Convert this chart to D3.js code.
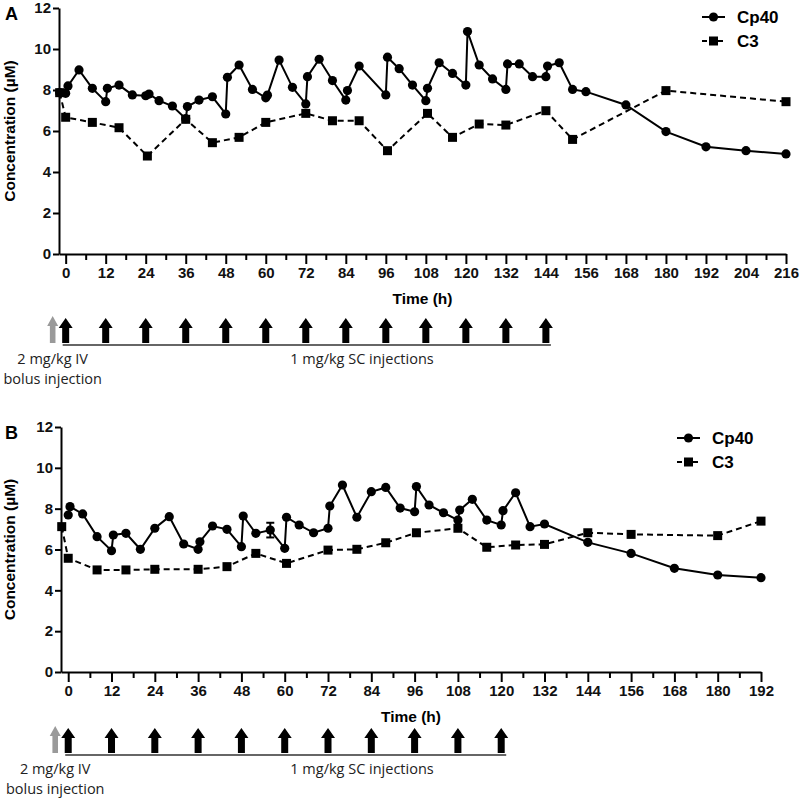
<!DOCTYPE html>
<html>
<head>
<meta charset="utf-8">
<script src="https://cdnjs.cloudflare.com/ajax/libs/d3/7.8.5/d3.min.js"></script>
<style>
  body { margin: 0; background: #fff; }
  svg text { font-family: "Liberation Sans", Arial, sans-serif; }
</style>
</head>
<body>
<script>
// values: [time (h), concentration (uM)]
var cp40A = [[-1.8,7.87],[0,7.84],[0.7,8.2],[4,8.98],[8,8.08],[12,7.43],[12.5,8.08],[16,8.24],[20,7.76],[24,7.72],[25,7.8],
  [28,7.48],[32,7.22],[36,6.6],[36.5,7.19],[40,7.51],[44,7.67],[48,6.83],[48.5,8.62],[52,9.22],[56,8.03],[60,7.62],[60.5,7.75],
  [64,9.46],[68,8.13],[72,7.32],[72.5,8.65],[76,9.5],[80,8.46],[84,7.51],[84.5,7.97],[88,9.17],[96,7.76],[96.5,9.6],[100,9.04],
  [104,8.24],[108,7.48],[108.5,8.08],[112,9.33],[116,8.81],[120,8.24],[120.5,10.85],[124,9.22],[128,8.54],[132,8.03],[132.5,9.27],
  [136,9.27],[140,8.65],[144,8.65],[144.5,9.17],[148,9.33],[152,8.03],[156,7.92],[168,7.27],[180,5.97],[192,5.23],[204,5.04],[216,4.88]];
var c3A = [[-1.8,7.87],[0,6.67],[8,6.42],[16,6.16],[24.5,4.78],[36,6.57],[44,5.43],[52,5.69],[60,6.42],[72,6.86],[80,6.5],
  [88,6.5],[96.5,5.04],[108.5,6.86],[116,5.69],[124,6.34],[132,6.29],[144,6.99],[152,5.59],[180,7.97],[216,7.43]];

var cp40B = [[0,7.69],[0.5,8.1],[4,7.74],[8,6.63],[12,5.94],[12.5,6.71],[16,6.79],[20,6.01],[24,7.04],[28,7.61],[32,6.27],
  [36,6.01],[36.5,6.38],[40,7.15],[44,6.99],[48,6.14],[48.5,7.64],[52,6.79],[56,6.95],[60,6.06],[60.5,7.58],[64,7.2],[68,6.82],
  [72,7.04],[72.5,8.13],[76,9.16],[80,7.58],[84,8.83],[88,9.04],[92,8.03],[96,7.85],[96.5,9.08],[100,8.18],[104,7.8],[108,7.44],
  [108.5,7.93],[112,8.46],[116,7.44],[120,7.2],[120.5,7.9],[124,8.78],[128,7.12],[132,7.25],[144,6.35],[156,5.81],[168,5.08],
  [180,4.75],[192,4.62]];
var c3B = [[-1.8,7.12],[0,5.57],[8,5.0],[16,5.0],[24,5.03],[36,5.03],[44,5.16],[52,5.81],[60.5,5.32],[72,5.97],[80,6.01],
  [88,6.33],[96.5,6.82],[108,7.04],[116,6.11],[124,6.22],[132,6.25],[144,6.82],[156,6.74],[180,6.68],[192,7.39]];
var errB = [[56,6.95,0.36]];

var dosesA = [0,12,24,36,48,60,72,84,96,108,120,132,144];
var dosesB = [0,12,24,36,48,60,72,84,96,108,120];
var yTicks = [0,2,4,6,8,10,12];
var seriesNames = ["Cp40", "C3"];

var svg = d3.select("body").append("svg")
  .attr("width", 800)
  .attr("height", 800);

function drawPanel(p) {
  var x = d3.scaleLinear().domain([-2, p.tMax]).range([p.left, p.right]);
  var y = d3.scaleLinear().domain([0, 12]).range([p.bottom, p.top]);
  var g = svg.append("g");

  var major = d3.range(0, p.tMax + 1, 12);
  var minor = d3.range(6, p.tMax, 12);

  // minor x ticks
  g.append("g")
    .attr("transform", "translate(0," + p.bottom + ")")
    .call(d3.axisBottom(x).tickValues(minor).tickSize(6).tickSizeOuter(0).tickFormat(""))
    .call(function(a){ a.select(".domain").remove(); a.selectAll("line").attr("stroke-width", 2); });

  var xa = g.append("g")
    .attr("transform", "translate(0," + p.bottom + ")")
    .call(d3.axisBottom(x).tickValues(major).tickSize(10).tickSizeOuter(0).tickPadding(3));
  xa.select(".domain").attr("stroke-width", 2);
  xa.selectAll("line").attr("stroke-width", 2);
  xa.selectAll("text").attr("font-size", 15).attr("font-weight", "bold").attr("fill", "#111");

  var ya = g.append("g")
    .attr("transform", "translate(" + p.left + ",0)")
    .call(d3.axisLeft(y).tickValues(yTicks).tickSize(6).tickSizeOuter(0).tickPadding(2));
  ya.select(".domain").attr("stroke-width", 2);
  ya.selectAll("line").attr("stroke-width", 2);
  ya.selectAll("text").attr("font-size", 15).attr("font-weight", "bold").attr("fill", "#111");

  g.append("text")
    .attr("x", (p.left + p.right) / 2)
    .attr("y", p.bottom + 50)
    .attr("text-anchor", "middle")
    .attr("font-size", 15.5).attr("font-weight", "bold")
    .text("Time (h)");

  g.append("text")
    .attr("transform", "translate(15," + (p.top + p.bottom) / 2 + ") rotate(-90)")
    .attr("text-anchor", "middle")
    .attr("font-size", 15.5).attr("font-weight", "bold")
    .text("Concentration (\u00b5M)");

  g.append("text")
    .attr("x", 5).attr("y", p.top + 12)
    .attr("font-size", 18).attr("font-weight", "bold")
    .text(p.letter);

  var line = d3.line()
    .x(function(d){ return x(d[0]); })
    .y(function(d){ return y(d[1]); });

  g.append("path").datum(p.c3)
    .attr("d", line).attr("fill", "none")
    .attr("stroke", "#000").attr("stroke-width", 2).attr("stroke-dasharray", "6,4");
  g.append("path").datum(p.cp40)
    .attr("d", line).attr("fill", "none")
    .attr("stroke", "#000").attr("stroke-width", 2);

  g.selectAll(".sq").data(p.c3).enter().append("rect")
    .attr("x", function(d){ return x(d[0]) - 4.5; })
    .attr("y", function(d){ return y(d[1]) - 4.5; })
    .attr("width", 9).attr("height", 9).attr("fill", "#000");
  g.selectAll(".ci").data(p.cp40).enter().append("circle")
    .attr("cx", function(d){ return x(d[0]); })
    .attr("cy", function(d){ return y(d[1]); })
    .attr("r", 4.6).attr("fill", "#000");

  // error bars
  var eb = g.selectAll(".eb").data(p.err || []).enter().append("g");
  eb.append("line")
    .attr("x1", function(d){ return x(d[0]); }).attr("x2", function(d){ return x(d[0]); })
    .attr("y1", function(d){ return y(d[1] + d[2]); }).attr("y2", function(d){ return y(d[1] - d[2]); })
    .attr("stroke", "#000").attr("stroke-width", 2);
  [1, -1].forEach(function(s){
    eb.append("line")
      .attr("x1", function(d){ return x(d[0]) - 4; }).attr("x2", function(d){ return x(d[0]) + 4; })
      .attr("y1", function(d){ return y(d[1] + s * d[2]); }).attr("y2", function(d){ return y(d[1] + s * d[2]); })
      .attr("stroke", "#000").attr("stroke-width", 2);
  });

  // legend
  var lg = g.append("g").attr("transform", "translate(" + p.legX + "," + p.legY + ")");
  seriesNames.forEach(function(name, i){
    var row = lg.append("g").attr("transform", "translate(0," + i * 24 + ")");
    row.append("line").attr("x1", 0).attr("x2", 23).attr("y1", 0).attr("y2", 0)
      .attr("stroke", "#000").attr("stroke-width", 2)
      .attr("stroke-dasharray", i === 1 ? "5,3" : null);
    if (i === 0) row.append("circle").attr("cx", 11.5).attr("cy", 0).attr("r", 4.6);
    else row.append("rect").attr("x", 7).attr("y", -4.5).attr("width", 9).attr("height", 9);
    row.append("text").attr("x", 35).attr("y", 6)
      .attr("font-size", 17).attr("font-weight", "bold").text(name);
  });

  // dosing scheme
  var ab = p.arrowY;
  function arrowPath(cx, hw, sw, h, hh) {
    return "M" + cx + "," + (ab - h) +
      "L" + (cx + hw) + "," + (ab - h + hh) +
      "L" + (cx + sw) + "," + (ab - h + hh) +
      "L" + (cx + sw) + "," + ab +
      "L" + (cx - sw) + "," + ab +
      "L" + (cx - sw) + "," + (ab - h + hh) +
      "L" + (cx - hw) + "," + (ab - h + hh) + "Z";
  }
  g.append("path")
    .attr("d", arrowPath(x(p.doses[0]) - 13, 5.5, 2.8, 27, 10))
    .attr("fill", "#9a9a9a");
  g.selectAll(".ar").data(p.doses).enter().append("path")
    .attr("d", function(d){ return arrowPath(x(d), 7, 3.5, 25, 10); })
    .attr("fill", "#000");
  g.append("line")
    .attr("x1", x(p.doses[0]) - 3).attr("x2", x(p.doses[p.doses.length - 1]) + 5)
    .attr("y1", ab + 2).attr("y2", ab + 2)
    .attr("stroke", "#333").attr("stroke-width", 1.5);

  var notes = g.append("g").attr("font-size", 14.5).attr("fill", "#222");
  notes.append("text").attr("x", x(p.doses[0]) - 13).attr("y", ab + 21)
    .attr("text-anchor", "middle").style("font-family", "'Open Sans', sans-serif").text("2 mg/kg IV");
  notes.append("text").attr("x", x(p.doses[0]) - 13).attr("y", ab + 41)
    .attr("text-anchor", "middle").style("font-family", "'Open Sans', sans-serif").text("bolus injection");
  notes.append("text").attr("x", 362).attr("y", ab + 21)
    .attr("text-anchor", "middle").style("font-family", "'Open Sans', sans-serif").text("1 mg/kg SC injections");
}

drawPanel({letter: "A", tMax: 216, left: 59, right: 786, top: 8, bottom: 254,
  cp40: cp40A, c3: c3A, doses: dosesA, legX: 702, legY: 17, arrowY: 343});
drawPanel({letter: "B", tMax: 192, left: 61, right: 761, top: 427, bottom: 672,
  cp40: cp40B, c3: c3B, err: errB, doses: dosesB, legX: 677, legY: 438, arrowY: 753});
</script>
</body>
</html>
